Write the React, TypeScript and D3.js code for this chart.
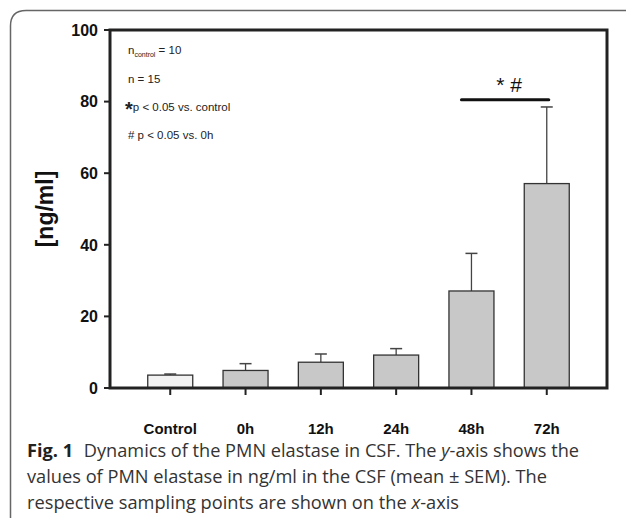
import React from 'react';
import * as d3 from 'd3';

const categories = ['Control', '0h', '12h', '24h', '48h', '72h'];
const means = [3.6, 4.9, 7.2, 9.2, 27.1, 57.1];
const errors = [0.3, 1.9, 2.3, 1.8, 10.5, 21.4];
const yTicks = [0, 20, 40, 60, 80, 100];
const sigLabel = '* #';
const sigValue = 80.5;
const sigFrom = '48h';
const sigTo = '72h';

const W = 627;
const H = 518;
const m = { left: 110, right: 607, top: 30, bottom: 388 };

export default function App() {
  const x = d3.scalePoint<string>().domain(categories).range([m.left, m.right]).padding(0.8);
  const y = d3.scaleLinear().domain([0, 100]).range([m.bottom, m.top]);
  const bw = 45;

  const font = '"Liberation Sans", Arial, Helvetica, sans-serif';
  const capFont = '"Open Sans", "Noto Sans", sans-serif';

  return (
    <svg width={W} height={H} style={{ position: 'absolute', left: 0, top: 0, background: '#fff' }}>
      {/* outer frame */}
      <path d={`M10.5,${H} L10.5,26 Q10.5,10.5 26,10.5 L626,10.5`} fill="none" stroke="#666" strokeWidth={1.5} />

      {/* bars */}
      {categories.map((c, i) => {
        const cx = x(c)!;
        return (
          <g key={c}>
            <line x1={cx} x2={cx} y1={y(means[i])} y2={y(means[i] + errors[i])} stroke="#444" strokeWidth={1.3} />
            <line x1={cx - 6} x2={cx + 6} y1={y(means[i] + errors[i])} y2={y(means[i] + errors[i])} stroke="#444" strokeWidth={1.5} />
            <rect x={cx - bw / 2} y={y(means[i])} width={bw} height={y(0) - y(means[i])}
              fill={i === 0 ? '#f2f2f2' : '#c8c8c8'} stroke="#333" strokeWidth={1.3} />
          </g>
        );
      })}

      {/* frame */}
      <rect x={m.left} y={m.top} width={m.right - m.left} height={m.bottom - m.top} fill="none" stroke="#222" strokeWidth={3} />

      {/* y ticks */}
      {yTicks.map(t => (
        <g key={t}>
          <line x1={m.left - 6} x2={m.left} y1={y(t)} y2={y(t)} stroke="#222" strokeWidth={2} />
          <text x={m.left - 12} y={y(t)} dy="0.36em" textAnchor="end" fontFamily={font} fontWeight="bold" fontSize={16} fill="#111">{t}</text>
        </g>
      ))}

      {/* x ticks */}
      {categories.map(c => (
        <g key={c}>
          <line x1={x(c)!} x2={x(c)!} y1={m.bottom} y2={m.bottom + 7} stroke="#222" strokeWidth={2} />
          <text x={x(c)!} y={434} textAnchor="middle" fontFamily={font} fontWeight="bold" fontSize={15} fill="#111">{c}</text>
        </g>
      ))}

      {/* y title */}
      <text transform={`translate(53,209) rotate(-90)`} textAnchor="middle" fontFamily={font} fontWeight="bold" fontSize={23} fill="#111">[ng/ml]</text>

      {/* significance */}
      <line x1={x(sigFrom)! - 10} x2={x(sigTo)! + 2} y1={y(sigValue)} y2={y(sigValue)} stroke="#111" strokeWidth={3} strokeLinecap="round" />
      <text x={(x(sigFrom)! + x(sigTo)!) / 2} y={y(sigValue) - 8} textAnchor="middle" fontFamily={font} fontSize={21} fill="#111">{sigLabel}</text>

      {/* annotations */}
      <g fontFamily={font} fontSize={11.5} fill="#222">
        <text x={128} y={54}>n<tspan fontSize={7} dy={3}>control</tspan><tspan dy={-3}> = 10</tspan></text>
        <text x={128} y={83}>n = 15</text>
        <text x={125} y={111}><tspan fontSize={20} fontWeight="bold" dy={5}>*</tspan><tspan dy={-5}>p &lt; 0.05 vs. control</tspan></text>
        <text x={128} y={139}># p &lt; 0.05 vs. 0h</text>
      </g>

      {/* caption */}
      <g fontFamily={capFont} fontSize={18} fill="#333">
        <text x={27} y={457} textLength={552} lengthAdjust="spacingAndGlyphs">
          <tspan fontWeight="bold" fill="#222">Fig. 1</tspan>
          <tspan dx={6}>{' Dynamics of the PMN elastase in CSF. The '}</tspan>
          <tspan fontStyle="italic">y</tspan>
          <tspan>-axis shows the</tspan>
        </text>
        <text x={27} y={483} textLength={520} lengthAdjust="spacingAndGlyphs">values of PMN elastase in ng/ml in the CSF (mean ± SEM). The</text>
        <text x={27} y={509} textLength={432} lengthAdjust="spacingAndGlyphs">
          <tspan>respective sampling points are shown on the </tspan>
          <tspan fontStyle="italic">x</tspan>
          <tspan>-axis</tspan>
        </text>
      </g>
    </svg>
  );
}
